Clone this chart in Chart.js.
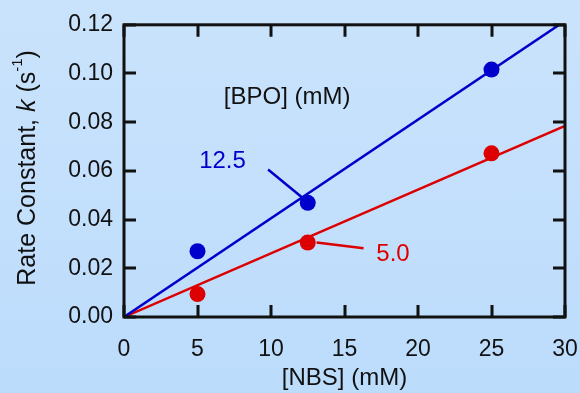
<!DOCTYPE html>
<html>
<head>
<meta charset="utf-8">
<script src="https://cdn.jsdelivr.net/npm/chart.js@4.4.1/dist/chart.umd.min.js"></script>
<style>
    html, body { margin: 0; padding: 0; }
    body { width: 580px; height: 393px; background: linear-gradient(#cae3fc, #bcdcfc); overflow: hidden; }
    canvas { display: block; }
</style>
</head>
<body>
<canvas id="chartRate" width="580" height="393"></canvas>
<script>
// [NBS] concentrations (mM) and measured rate constants (s^-1)
const nbs = [5, 12.5, 25];
const rateBpo125 = [0.0270, 0.0469, 0.1016];
const rateBpo50 = [0.0094, 0.0306, 0.0672];

// linear fits through the origin
const fitX = [0, 30];
const fitBpo125 = [0, 0.1216];
const fitBpo50 = [0, 0.0785];

const xTicks = [0, 5, 10, 15, 20, 25, 30];
const yTicks = [0, 0.02, 0.04, 0.06, 0.08, 0.10, 0.12];

// annotation labels: [text, x, y, colour]
const noteLabels = [
    ["[BPO] (mM)", 11.1, 0.0903, "#111111"],
    ["12.5", 6.7, 0.0639, "#0000cc"],
    ["5.0", 18.3, 0.0256, "#dd0000"],
];
// leader lines: [x1, y1, x2, y2, colour]
const noteLines = [
    [9.8, 0.0606, 12.1, 0.0492, "#0000cc"],
    [13.1, 0.0306, 16.3, 0.0282, "#dd0000"],
];

const BLUE = "#0000cc";
const RED = "#dd0000";
const FONT = "'Liberation Sans', Arial, sans-serif";

const toXY = (xs, ys) => xs.map((x, i) => ({x: x, y: ys[i]}));

const framePlugin = {
    id: "frame",
    afterDatasetsDraw(chart) {
        const ctx = chart.ctx;
        const a = chart.chartArea;
        const xs = chart.scales.x;
        const ys = chart.scales.y;
        const tick = 12;
        ctx.save();
        ctx.strokeStyle = "#111111";
        ctx.lineWidth = 3;
        ctx.lineCap = "butt";
        ctx.beginPath();
        xTicks.forEach((v) => {
            const px = Math.round(xs.getPixelForValue(v));
            ctx.moveTo(px, a.bottom);
            ctx.lineTo(px, a.bottom - tick);
            ctx.moveTo(px, a.top);
            ctx.lineTo(px, a.top + tick);
        });
        yTicks.forEach((v) => {
            const py = Math.round(ys.getPixelForValue(v));
            ctx.moveTo(a.left, py);
            ctx.lineTo(a.left + tick, py);
            ctx.moveTo(a.right, py);
            ctx.lineTo(a.right - tick, py);
        });
        ctx.stroke();
        ctx.lineJoin = "miter";
        ctx.strokeRect(a.left, a.top, a.right - a.left, a.bottom - a.top);

        // annotations
        ctx.lineWidth = 2.5;
        noteLines.forEach((l) => {
            ctx.strokeStyle = l[4];
            ctx.beginPath();
            ctx.moveTo(xs.getPixelForValue(l[0]), ys.getPixelForValue(l[1]));
            ctx.lineTo(xs.getPixelForValue(l[2]), ys.getPixelForValue(l[3]));
            ctx.stroke();
        });
        ctx.font = "24px " + FONT;
        ctx.textAlign = "center";
        ctx.textBaseline = "middle";
        noteLabels.forEach((n) => {
            ctx.fillStyle = n[3];
            ctx.fillText(n[0], xs.getPixelForValue(n[1]), ys.getPixelForValue(n[2]));
        });

        // y axis title with italic k and superscript
        const parts = [
            ["Rate Constant, ", "25px " + FONT, 0],
            ["k", "italic 25px " + FONT, 0],
            [" (s", "25px " + FONT, 0],
            ["-1", "15px " + FONT, -10],
            [")", "25px " + FONT, 0],
        ];
        let total = 0;
        parts.forEach((p) => {
            ctx.font = p[1];
            total += ctx.measureText(p[0]).width;
        });
        ctx.translate(28, (a.top + a.bottom) / 2 - 3);
        ctx.rotate(-Math.PI / 2);
        ctx.fillStyle = "#111111";
        ctx.textAlign = "left";
        let cx = -total / 2;
        parts.forEach((p) => {
            ctx.font = p[1];
            ctx.fillText(p[0], cx, p[2]);
            cx += ctx.measureText(p[0]).width;
        });
        ctx.restore();
    }
};

const ctxRate = document.getElementById("chartRate").getContext("2d");
const rateChart = new Chart(ctxRate, {
    type: "scatter",
    data: {
        datasets: [
            {
                label: "12.5 mM",
                data: toXY(nbs, rateBpo125),
                backgroundColor: BLUE,
                borderColor: BLUE,
                pointRadius: 8,
                pointBorderWidth: 0,
            },
            {
                label: "5.0 mM",
                data: toXY(nbs, rateBpo50),
                backgroundColor: RED,
                borderColor: RED,
                pointRadius: 8,
                pointBorderWidth: 0,
            },
            {
                label: "fit 12.5",
                data: toXY(fitX, fitBpo125),
                showLine: true,
                borderColor: BLUE,
                borderWidth: 2.5,
                pointRadius: 0,
            },
            {
                label: "fit 5.0",
                data: toXY(fitX, fitBpo50),
                showLine: true,
                borderColor: RED,
                borderWidth: 2.5,
                pointRadius: 0,
            },
        ]
    },
    options: {
        responsive: false,
        animation: false,
        events: [],
        layout: {padding: {left: 0, top: 22, right: 0, bottom: 0}},
        plugins: {
            legend: {display: false},
            tooltip: {enabled: false},
        },
        scales: {
            x: {
                type: "linear",
                min: 0,
                max: 30,
                afterFit: (scale) => {
                    scale.height = 76;
                    scale.paddingLeft = 0;
                    scale.paddingRight = 15;
                },
                afterBuildTicks: (scale) => { scale.ticks = xTicks.map((v) => ({value: v})); },
                grid: {display: false, drawTicks: false},
                border: {display: false},
                ticks: {
                    color: "#111111",
                    font: {family: FONT, size: 23},
                    padding: 19,
                    maxRotation: 0,
                },
                title: {
                    display: true,
                    text: "[NBS] (mM)",
                    color: "#111111",
                    font: {family: FONT, size: 24},
                    padding: {top: 0, bottom: 0},
                },
            },
            y: {
                type: "linear",
                min: 0,
                max: 0.12,
                afterFit: (scale) => { scale.width = 124; },
                afterBuildTicks: (scale) => { scale.ticks = yTicks.map((v) => ({value: v})); },
                grid: {display: false, drawTicks: false},
                border: {display: false},
                ticks: {
                    color: "#111111",
                    font: {family: FONT, size: 23},
                    padding: 11,
                    callback: (v) => v.toFixed(2),
                },
            },
        },
    },
    plugins: [framePlugin],
});
</script>
</body>
</html>
